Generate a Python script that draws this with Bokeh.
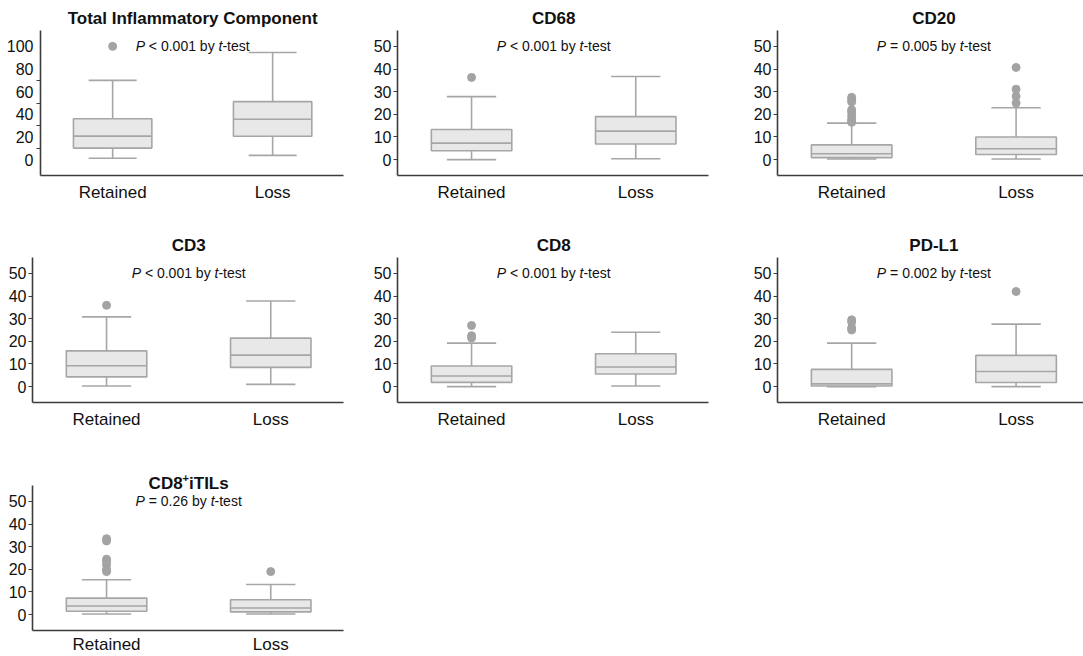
from bokeh.plotting import figure
from bokeh.layouts import column, row
from bokeh.models import Label, FixedTicker, Range1d, ColumnDataSource
from bokeh.embed import file_html
from bokeh.resources import INLINE

# ---------------- data ----------------
groups = ["Retained", "Loss"]
titles = ["Total Inflammatory Component", "CD68", "CD20", "CD3", "CD8", "PD-L1", "CD8+iTILs"]
p_values = ["< 0.001", "< 0.001", "= 0.005", "< 0.001", "< 0.001", "= 0.002", "= 0.26"]
y_ticks_100 = [0, 20, 40, 60, 80, 100]
y_minor_100 = [10, 30, 50, 70]
y_ticks_50 = [0, 10, 20, 30, 40, 50]

# box statistics per panel: [Retained, Loss]
whisker_low = [[1.2, 3.8], [0.0, 0.4], [0.3, 0.3], [0.3, 1.0], [0.0, 0.3], [0.0, 0.0], [0.3, 0.3]]
quart1 = [[10.2, 20.6], [3.9, 6.9], [0.9, 2.3], [4.3, 8.5], [1.9, 5.6], [0.3, 1.8], [1.5, 1.2]]
medians = [[20.8, 35.6], [7.3, 12.6], [2.6, 4.8], [9.2, 13.9], [4.7, 8.7], [1.2, 6.7], [3.8, 2.9]]
quart3 = [[36.1, 51.2], [13.3, 19.0], [6.5, 10.0], [15.8, 21.4], [9.1, 14.5], [7.6, 13.8], [7.3, 6.6]]
whisker_high = [[70.0, 94.6], [27.8, 36.7], [16.1, 22.9], [30.8, 37.8], [19.2, 24.0], [19.2, 27.6], [15.4, 13.3]]
outliers_retained = [[100.0], [36.3], [27.5, 26.5, 25.5, 22.0, 21.0, 19.5, 18.0, 17.0, 16.5], [35.9],
                     [27.0, 22.5, 21.5], [29.5, 28.5, 26.0, 25.0], [33.5, 32.5, 24.5, 23.5, 22.0, 20.0, 19.0]]
outliers_loss = [[], [], [40.7, 31.1, 28.0, 25.0], [], [], [42.0], [19.0]]

# ---------------- style / layout ----------------
FONT = "Liberation Sans"
TXT = "#111111"
AXC = "#3c3c3c"
BOX_FILL = "#e8e8e8"
BOX_LINE = "#a6a6a6"
BOX_W = 0.49
CAP_W = 0.30
col_left = [32, 37, 57]
col_frame = [311, 311, 306]
col_right = [17, 12, 0]
x_start = 0.549
x_end = [2.443, 2.443, 2.410]
AXIS_H = 145            # pixel height of the drawn y axis
extra_top = [30, 25, 25]  # frame pixels above the axis (room for titles)
row_bottom = [57, 58, 26]
x_standoff = [7, 7, 4]
title_lift = [12, 12, 2]

# Arial / Liberation Sans advance widths (per 1000 em)
REG = {' ': 278, '<': 584, '=': 584, '.': 278, 'b': 556, 'y': 500, 't': 278, '-': 333,
       'e': 556, 's': 500, 'P': 667}
BOLD = {'C': 722, 'D': 722, '8': 556, 'i': 278, 'T': 611, 'I': 278, 'L': 611, 's': 556, '+': 584}


def tw(s, size, table):
    return sum(table.get(ch, 556) for ch in s) * size / 1000.0


def label(p, x, y, text, size, style="normal", align="left", xo=0, yo=0):
    p.add_layout(Label(x=x, y=y, text=text, text_font=FONT, text_font_size=f"{size}px",
                       text_font_style=style, text_color=TXT, text_align=align,
                       text_baseline="middle", x_offset=xo, y_offset=yo))


def make_panel(i):
    r, c = divmod(i, 3)
    big = (i == 0)
    left = 40 if big else col_left[c]
    fw = 303 if big else col_frame[c]
    right = col_right[c]
    ylo, ytop_axis = (-14, 114) if big else (-7, 57)
    scale = AXIS_H / (ytop_axis - ylo)
    yhi = ytop_axis + extra_top[r] / scale
    frame_h = AXIS_H + extra_top[r]
    p = figure(width=left + fw + right, height=frame_h + row_bottom[r],
               x_range=Range1d(x_start, x_end[c]), y_range=Range1d(ylo, yhi),
               output_backend="svg", toolbar_location=None, title=None,
               min_border_left=left, min_border_right=right,
               min_border_top=0, min_border_bottom=row_bottom[r])
    p.outline_line_color = None
    p.xgrid.visible = False
    p.ygrid.visible = False
    p.background_fill_color = "white"
    p.border_fill_color = "white"

    xs = [1, 2]
    src = ColumnDataSource(dict(
        x=xs,
        left=[x - BOX_W / 2 for x in xs], right=[x + BOX_W / 2 for x in xs],
        cl=[x - CAP_W / 2 for x in xs], cr=[x + CAP_W / 2 for x in xs],
        lo=whisker_low[i], q1=quart1[i], med=medians[i], q3=quart3[i], hi=whisker_high[i]))
    p.segment(x0="x", y0="lo", x1="x", y1="q1", source=src, line_color=BOX_LINE, line_width=1.6)
    p.segment(x0="x", y0="q3", x1="x", y1="hi", source=src, line_color=BOX_LINE, line_width=1.6)
    p.segment(x0="cl", y0="lo", x1="cr", y1="lo", source=src, line_color=BOX_LINE, line_width=1.6)
    p.segment(x0="cl", y0="hi", x1="cr", y1="hi", source=src, line_color=BOX_LINE, line_width=1.6)
    p.quad(left="left", right="right", bottom="q1", top="q3", source=src,
           fill_color=BOX_FILL, line_color=BOX_LINE, line_width=1.6)
    p.segment(x0="left", y0="med", x1="right", y1="med", source=src, line_color=BOX_LINE, line_width=1.6)

    ox = [1] * len(outliers_retained[i]) + [2] * len(outliers_loss[i])
    oy = outliers_retained[i] + outliers_loss[i]
    if oy:
        p.scatter(ox, oy, size=8, fill_color="#a3a3a3", line_color="#a3a3a3")

    # axes
    xa = p.xaxis[0]
    xa.ticker = FixedTicker(ticks=xs, minor_ticks=[])
    xa.major_label_overrides = {1: groups[0], 2: groups[1]}
    xa.major_tick_out = 0
    xa.major_tick_in = 0
    xa.minor_tick_out = 0
    xa.minor_tick_in = 0
    xa.axis_line_color = AXC
    xa.axis_line_width = 1.6
    xa.major_label_text_font = FONT
    xa.major_label_text_font_size = "17px"
    xa.major_label_text_color = TXT
    xa.major_label_standoff = x_standoff[r]

    ya = p.yaxis[0]
    ya.bounds = (ylo, ytop_axis)
    if big:
        ya.ticker = FixedTicker(ticks=y_ticks_100, minor_ticks=y_minor_100)
        ya.major_tick_out = 0
        ya.major_tick_in = 0
        ya.minor_tick_out = 4
        ya.minor_tick_in = 0
        ya.major_label_standoff = 3
    else:
        ya.ticker = FixedTicker(ticks=y_ticks_50, minor_ticks=[])
        ya.major_tick_out = 4
        ya.major_tick_in = 0
        ya.minor_tick_out = 0
        ya.minor_tick_in = 0
        ya.major_label_standoff = 2
    ya.axis_line_color = AXC
    ya.axis_line_width = 1.6
    ya.major_tick_line_color = AXC
    ya.minor_tick_line_color = AXC
    ya.major_label_text_font = FONT
    ya.major_label_text_font_size = "16px"
    ya.major_label_text_color = TXT

    # title
    t = titles[i]
    if "+" in t:
        a, b = t.split("+")
        wa = tw(a, 17, BOLD)
        wp = tw("+", 11, BOLD)
        wb = tw(b, 17, BOLD)
        start = -(wa + wp + wb) / 2
        label(p, 1.5, ytop_axis, a, 17, "bold", "left", start, title_lift[r])
        label(p, 1.5, ytop_axis, "+", 11, "bold", "left", start + wa, title_lift[r] + 6)
        label(p, 1.5, ytop_axis, b, 17, "bold", "left", start + wa + wp, title_lift[r])
    else:
        label(p, 1.5, ytop_axis, t, 17, "bold", "center", 0, title_lift[r])

    # P-value text
    ytxt = (y_ticks_100 if big else y_ticks_50)[-1]
    mid = " " + p_values[i] + " by "
    full = "P" + mid + "t-test"
    total = tw(full, 14, REG)
    start = -total / 2
    label(p, 1.5, ytxt, "P", 14, "italic", "left", start)
    label(p, 1.5, ytxt, mid.strip(), 14, "normal", "left", start + tw("P ", 14, REG))
    label(p, 1.5, ytxt, "t", 14, "italic", "left", start + tw("P" + mid, 14, REG))
    label(p, 1.5, ytxt, "-test", 14, "normal", "left", start + tw("P" + mid + "t", 14, REG))
    return p


panels = [make_panel(i) for i in range(len(titles))]
layout = column(row(*panels[0:3]), row(*panels[3:6]), row(panels[6]))

open("out.html", "w").write(file_html(layout, INLINE))
